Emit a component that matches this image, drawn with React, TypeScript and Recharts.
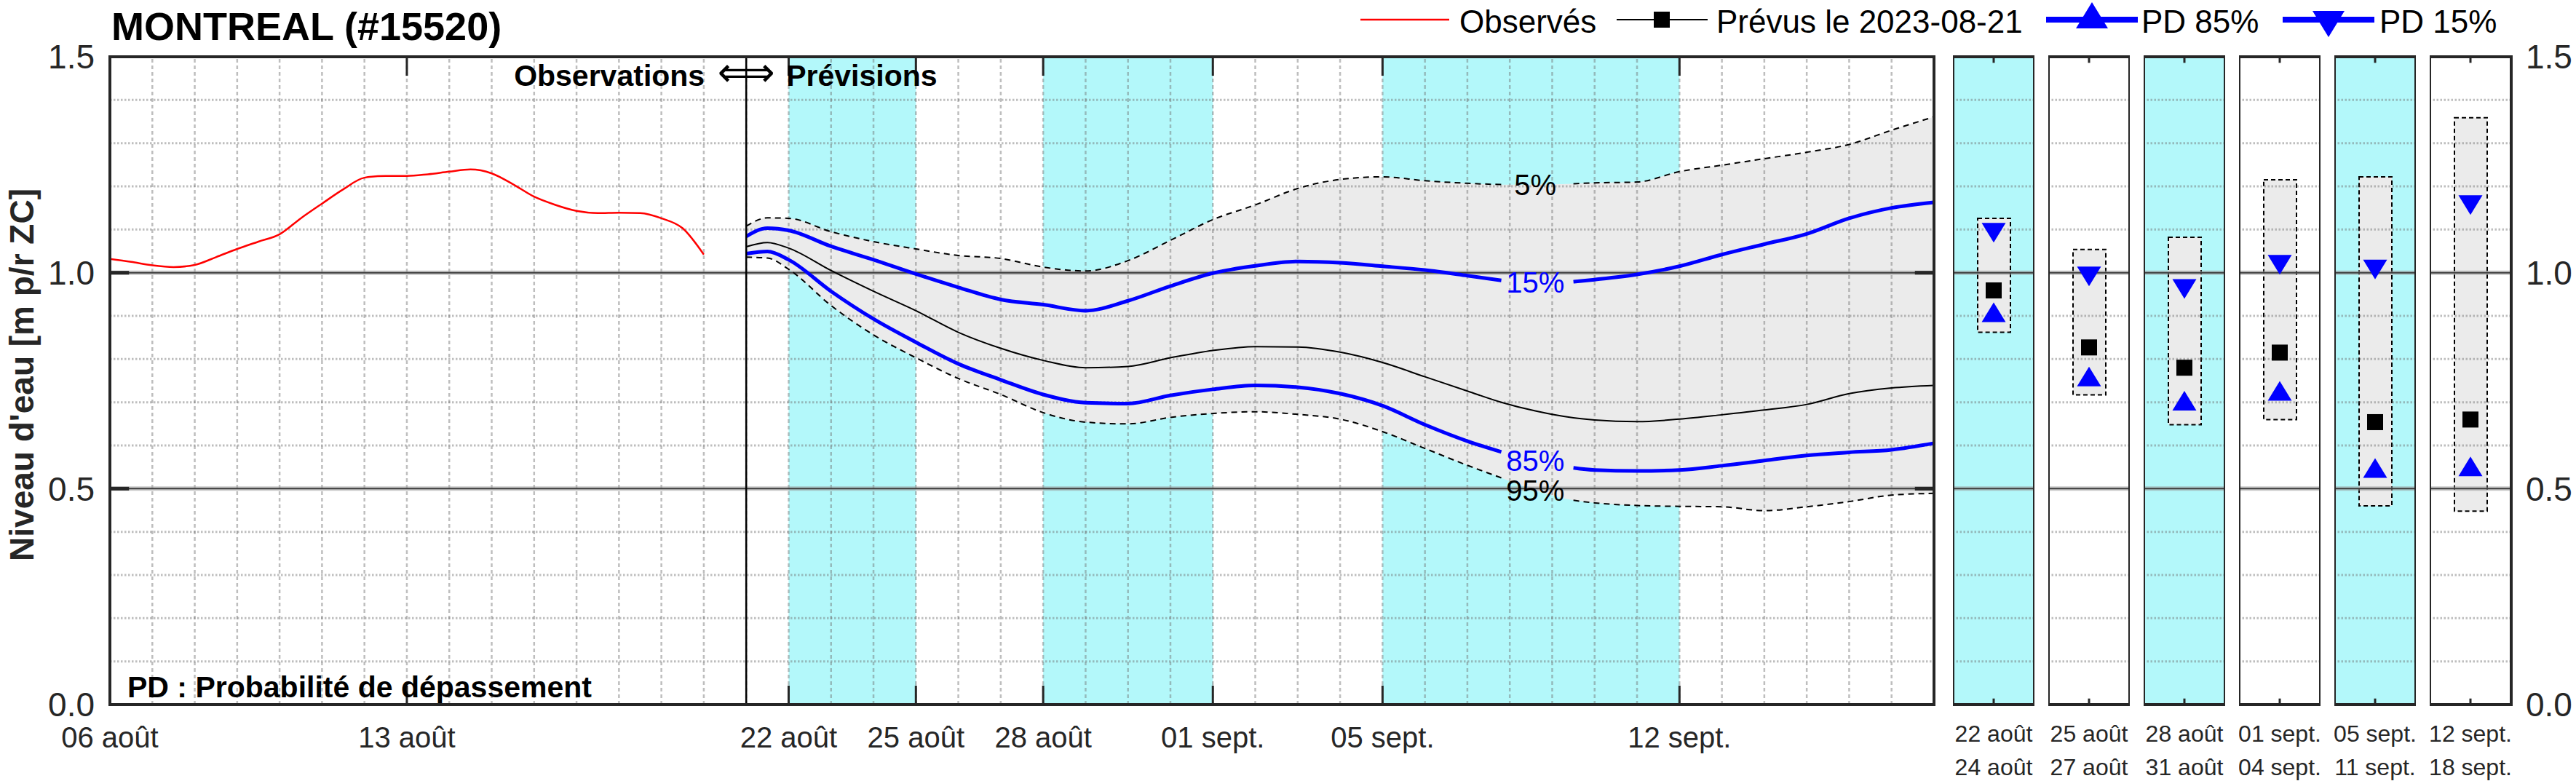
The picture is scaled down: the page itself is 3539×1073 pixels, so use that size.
import React from 'react';
import {
  ComposedChart,
  Line,
  Area,
  Bar,
  XAxis,
  YAxis,
  ReferenceArea,
  ReferenceLine,
  ReferenceDot,
} from 'recharts';

/* ── Data (x = days counted from 06 août 2023) ─────────────────── */
const obsDays = [0, 0.5, 1, 1.5, 2, 2.5, 3, 3.5, 4, 4.5, 5, 5.5, 6, 6.5, 7, 7.5, 8, 8.5, 9, 9.5, 10, 10.5, 11, 11.5, 12, 12.5, 13, 13.5, 14];
const obsLevel = [1.032, 1.025, 1.017, 1.013, 1.018, 1.036, 1.055, 1.072, 1.089, 1.126, 1.16, 1.193, 1.22, 1.224, 1.224, 1.228, 1.234, 1.239, 1.23, 1.205, 1.176, 1.157, 1.143, 1.138, 1.139, 1.138, 1.126, 1.103, 1.042];

const fcDays = [15, 15.5, 16, 17, 18, 19, 20, 21, 22, 23, 24, 25, 26, 27, 28, 29, 30, 31, 32, 32.8, 33.6, 34.5, 35, 36, 37, 38, 39, 40, 41, 42, 43];
const p05 = [1.108, 1.127, 1.126, 1.095, 1.072, 1.055, 1.04, 1.033, 1.013, 1.004, 1.028, 1.075, 1.123, 1.157, 1.195, 1.216, 1.222, 1.213, 1.207, 1.204, 1.204, 1.206, 1.208, 1.21, 1.234, 1.249, 1.264, 1.279, 1.297, 1.33, 1.361];
const p15 = [1.084, 1.103, 1.098, 1.061, 1.03, 0.997, 0.966, 0.938, 0.926, 0.912, 0.935, 0.969, 0.999, 1.016, 1.026, 1.023, 1.015, 1.006, 0.993, 0.982, 0.978, 0.979, 0.984, 0.996, 1.015, 1.042, 1.066, 1.09, 1.126, 1.15, 1.163];
const p50 = [1.06, 1.07, 1.057, 1.005, 0.957, 0.912, 0.862, 0.825, 0.797, 0.78, 0.783, 0.803, 0.82, 0.829, 0.828, 0.816, 0.792, 0.759, 0.726, 0.7, 0.68, 0.664, 0.659, 0.655, 0.661, 0.671, 0.682, 0.695, 0.72, 0.733, 0.739];
const p85 = [1.044, 1.049, 1.03, 0.957, 0.893, 0.839, 0.789, 0.752, 0.718, 0.699, 0.697, 0.716, 0.73, 0.739, 0.735, 0.72, 0.692, 0.648, 0.61, 0.585, 0.565, 0.548, 0.543, 0.541, 0.543, 0.553, 0.565, 0.577, 0.584, 0.59, 0.605];
const p95 = [1.036, 1.034, 1.008, 0.924, 0.856, 0.803, 0.755, 0.718, 0.676, 0.654, 0.65, 0.665, 0.674, 0.678, 0.672, 0.661, 0.632, 0.593, 0.554, 0.525, 0.496, 0.473, 0.467, 0.461, 0.459, 0.458, 0.449, 0.458, 0.47, 0.485, 0.489];
// percentile labels sit in a break of their line
const labelDay = 33.6;

const forecastDay = 15;
const shadedSpans = [[16, 19], [22, 26], [30, 37]];
const xTickDays = [0, 7, 16, 19, 22, 26, 30, 37];
const xTickLabels = ['06 août', '13 août', '22 août', '25 août', '28 août', '01 sept.', '05 sept.', '12 sept.'];
const yTicks = [0, 0.5, 1, 1.5];
const yMinor = [0.1, 0.2, 0.3, 0.4, 0.6, 0.7, 0.8, 0.9, 1.1, 1.2, 1.3, 1.4];
const yMajor = [0.5, 1];

// period summaries (right panels)
const panelStart = ['22 août', '25 août', '28 août', '01 sept.', '05 sept.', '12 sept.'];
const panelEnd = ['24 août', '27 août', '31 août', '04 sept.', '11 sept.', '18 sept.'];
const panelShaded = [true, false, true, false, true, false];
const panelHigh = [1.126, 1.054, 1.082, 1.215, 1.222, 1.359];
const panelLow = [0.862, 0.717, 0.648, 0.66, 0.46, 0.448];
const panelPd15 = [1.1, 0.999, 0.97, 1.026, 1.015, 1.164];
const panelMed = [0.959, 0.827, 0.78, 0.815, 0.654, 0.66];
const panelPd85 = [0.901, 0.752, 0.696, 0.719, 0.54, 0.544];

/* ── Design tokens ─────────────────────────────────────────────── */
const tokens = {
  cyan: '#B3F8FA',
  band: '#EBEBEB',
  blue: '#0000FF',
  red: '#FF0000',
  ink: '#262626',
  grid: '#6E6E6E',
  font: '"Liberation Sans", Arial, Helvetica, sans-serif',
};

/* ── Layout ────────────────────────────────────────────────────── */
const W = 3539;
const H = 1073;
const PLOT_TOP = 78;
const PLOT_BOTTOM = 968;
const PLOT_LEFT = 151;
const MAIN_RIGHT = 2657;
const MAIN_W = 2700;
const Y_AXIS_W = 100;
const X_AXIS_H = 60;
const PANEL_LEFT = 2683;
const PANEL_STEP = 131;
const PANEL_W = 112;
const RIGHT_AXIS_W = 89;

const dayGrid = Array.from({ length: 42 }, (_, i) => i + 1);

const obsRows = obsDays.map((day, i) => ({ day, level: obsLevel[i] }));
const fcRows = fcDays.map((day, i) => {
  const gap = day === labelDay;
  return {
    day,
    band: [p95[i], p05[i]],
    p50: p50[i],
    p05: gap ? null : p05[i],
    p15: gap ? null : p15[i],
    p85: gap ? null : p85[i],
    p95: gap ? null : p95[i],
  };
});
const li = fcDays.indexOf(labelDay);

/* ── Markers ───────────────────────────────────────────────────── */
const triDown = (w: number, h: number) => (props: any) => {
  const { cx, cy, index } = props;
  if (cx == null || cy == null) return <g key={`dn-${index}`} />;
  const top = cy - h / 3;
  return (
    <path key={`dn-${index}`} d={`M${cx - w / 2},${top}L${cx + w / 2},${top}L${cx},${top + h}Z`} fill={tokens.blue} />
  );
};
const triUp = (w: number, h: number) => (props: any) => {
  const { cx, cy, index } = props;
  if (cx == null || cy == null) return <g key={`up-${index}`} />;
  const base = cy + h / 3;
  return (
    <path key={`up-${index}`} d={`M${cx - w / 2},${base}L${cx + w / 2},${base}L${cx},${base - h}Z`} fill={tokens.blue} />
  );
};
const square = (s: number) => (props: any) => {
  const { cx, cy, index } = props;
  if (cx == null || cy == null) return <g key={`sq-${index}`} />;
  return <rect key={`sq-${index}`} x={cx - s / 2} y={cy - s / 2} width={s} height={s} fill="#000" />;
};

const gridV = { stroke: tokens.grid, strokeOpacity: 0.45, strokeWidth: 2.5, strokeDasharray: '5 4' };
const gridH = { stroke: tokens.grid, strokeOpacity: 0.45, strokeWidth: 3, strokeDasharray: '2.5 2.5' };

const pctLabel = (text: string, color: string) => (props: any) => (
  <text
    x={props.cx}
    y={props.cy}
    textAnchor="middle"
    dominantBaseline="central"
    fontSize={40}
    fill={color}
    fontFamily={tokens.font}
  >
    {text}
  </text>
);

/* ── Main hydrograph ───────────────────────────────────────────── */
const MainChart = () => (
  <ComposedChart
    width={MAIN_W}
    height={H}
    margin={{ top: PLOT_TOP, right: MAIN_W - MAIN_RIGHT, bottom: H - PLOT_BOTTOM - X_AXIS_H, left: PLOT_LEFT - Y_AXIS_W }}
  >
    <XAxis
      type="number"
      dataKey="day"
      domain={[0, 43]}
      allowDataOverflow
      ticks={xTickDays}
      interval={0}
      tickFormatter={(v: number) => xTickLabels[xTickDays.indexOf(v)] ?? ''}
      height={X_AXIS_H}
      axisLine={false}
      tickLine={false}
      tickSize={0}
      tickMargin={31}
      tick={{ fontSize: 40, fill: tokens.ink, fontFamily: tokens.font }}
    />
    <YAxis
      type="number"
      domain={[0, 1.5]}
      allowDataOverflow
      ticks={yTicks}
      interval={0}
      tickFormatter={(v: number) => v.toFixed(1)}
      width={Y_AXIS_W}
      axisLine={false}
      tickLine={false}
      tickSize={0}
      tickMargin={21}
      tick={{ fontSize: 46, fill: tokens.ink, fontFamily: tokens.font }}
    />

    {/* shaded periods */}
    {shadedSpans.map(([a, b]) => (
      <ReferenceArea key={`s-${a}`} x1={a} x2={b} y1={0} y2={1.5} fill={tokens.cyan} fillOpacity={1} stroke="none" zIndex={50} />
    ))}

    {/* 5%–95% envelope */}
    <Area
      data={fcRows}
      dataKey="band"
      type="monotone"
      stroke="none"
      fill={tokens.band}
      fillOpacity={1}
      isAnimationActive={false}
      dot={false}
      activeDot={false}
      zIndex={60}
    />

    {/* grid */}
    {dayGrid.map((d) => (
      <ReferenceLine key={`v-${d}`} x={d} {...gridV} zIndex={70} />
    ))}
    {yMinor.map((v) => (
      <ReferenceLine key={`h-${v}`} y={v} {...gridH} zIndex={70} />
    ))}
    {yMajor.map((v) => (
      <ReferenceLine key={`mh-${v}`} y={v} stroke="#9A9A9A" strokeOpacity={0.55} strokeWidth={6} zIndex={71} />
    ))}
    {yMajor.map((v) => (
      <ReferenceLine key={`m-${v}`} y={v} stroke="#3C3C3C" strokeWidth={2} zIndex={72} />
    ))}

    {/* series */}
    <Line data={obsRows} dataKey="level" type="monotone" stroke={tokens.red} strokeWidth={2.5} dot={false} activeDot={false} isAnimationActive={false} zIndex={90} />
    <Line data={fcRows} dataKey="p05" type="monotone" stroke="#000" strokeWidth={2} strokeDasharray="8 6" dot={false} activeDot={false} isAnimationActive={false} zIndex={91} />
    <Line data={fcRows} dataKey="p95" type="monotone" stroke="#000" strokeWidth={2} strokeDasharray="8 6" dot={false} activeDot={false} isAnimationActive={false} zIndex={91} />
    <Line data={fcRows} dataKey="p50" type="monotone" stroke="#000" strokeWidth={2} dot={false} activeDot={false} isAnimationActive={false} zIndex={92} />
    <Line data={fcRows} dataKey="p15" type="monotone" stroke={tokens.blue} strokeWidth={5} dot={false} activeDot={false} isAnimationActive={false} zIndex={93} />
    <Line data={fcRows} dataKey="p85" type="monotone" stroke={tokens.blue} strokeWidth={5} dot={false} activeDot={false} isAnimationActive={false} zIndex={93} />

    {/* observation / forecast divider */}
    <ReferenceLine x={forecastDay} stroke="#000" strokeWidth={2.5} zIndex={95} />

    {/* frame and inward ticks */}
    <ReferenceArea x1={0} x2={43} y1={0} y2={1.5} fill="none" stroke={tokens.ink} strokeWidth={4} zIndex={97} />
    {xTickDays.map((d) => (
      <ReferenceLine key={`tt-${d}`} segment={[{ x: d, y: 1.5 }, { x: d, y: 1.456 }]} stroke={tokens.ink} strokeWidth={3} zIndex={98} />
    ))}
    {xTickDays.map((d) => (
      <ReferenceLine key={`tb-${d}`} segment={[{ x: d, y: 0 }, { x: d, y: 0.044 }]} stroke={tokens.ink} strokeWidth={3} zIndex={98} />
    ))}
    {yMajor.map((v) => (
      <ReferenceLine key={`yl-${v}`} segment={[{ x: 0, y: v }, { x: 0.45, y: v }]} stroke={tokens.ink} strokeWidth={5} zIndex={98} />
    ))}
    {yMajor.map((v) => (
      <ReferenceLine key={`yr-${v}`} segment={[{ x: 42.55, y: v }, { x: 43, y: v }]} stroke={tokens.ink} strokeWidth={5} zIndex={98} />
    ))}

    {/* percentile labels */}
    <ReferenceDot x={labelDay} y={p05[li]} r={0} shape={pctLabel('5%', '#000')} zIndex={99} />
    <ReferenceDot x={labelDay} y={p15[li]} r={0} shape={pctLabel('15%', tokens.blue)} zIndex={99} />
    <ReferenceDot x={labelDay} y={p85[li]} r={0} shape={pctLabel('85%', tokens.blue)} zIndex={99} />
    <ReferenceDot x={labelDay} y={p95[li]} r={0} shape={pctLabel('95%', '#000')} zIndex={99} />

    {/* Observations <=> Prévisions */}
    <ReferenceDot
      x={forecastDay}
      y={1.5}
      r={0}
      zIndex={99}
      shape={(p: any) => (
        <g fontFamily={tokens.font} fill="#000">
          <text x={p.cx - 57} y={p.cy + 40} textAnchor="end" fontSize={41} fontWeight="bold">
            Observations
          </text>
          <text x={p.cx} y={p.cy + 40} textAnchor="middle" fontSize={55} fontFamily='"DejaVu Sans", sans-serif'>
            ⟺
          </text>
          <text x={p.cx + 55} y={p.cy + 40} textAnchor="start" fontSize={41} fontWeight="bold">
            Prévisions
          </text>
        </g>
      )}
    />
  </ComposedChart>
);

/* ── Period panels ─────────────────────────────────────────────── */
const PanelChart: React.FC<{ i: number }> = ({ i }) => {
  const last = i === panelStart.length - 1;
  const rows = [
    {
      name: panelStart[i],
      box: [panelLow[i], panelHigh[i]],
      pd15: panelPd15[i],
      med: panelMed[i],
      pd85: panelPd85[i],
    },
  ];
  return (
    <div style={{ position: 'absolute', left: PANEL_LEFT + i * PANEL_STEP, top: 0 }}>
      <ComposedChart
        width={PANEL_W + (last ? RIGHT_AXIS_W : 0)}
        height={H}
        data={rows}
        margin={{ top: PLOT_TOP, right: 0, bottom: 0, left: 0 }}
      >
        <XAxis
          dataKey="name"
          type="category"
          height={H - PLOT_BOTTOM}
          axisLine={false}
          tickLine={false}
          tickSize={0}
          tickMargin={0}
          interval={0}
          tick={(p: any) => (
            <g fontFamily={tokens.font} fill={tokens.ink} fontSize={32}>
              <text x={p.x} y={p.y + 51} textAnchor="middle">{panelStart[i]}</text>
              <text x={p.x} y={p.y + 97} textAnchor="middle">{panelEnd[i]}</text>
            </g>
          )}
        />
        <YAxis
          type="number"
          domain={[0, 1.5]}
          allowDataOverflow
          ticks={yTicks}
          interval={0}
          orientation="right"
          hide={!last}
          width={RIGHT_AXIS_W}
          axisLine={false}
          tickLine={false}
          tickSize={0}
          tickMargin={20}
          tickFormatter={(v: number) => v.toFixed(1)}
          tick={{ fontSize: 46, fill: tokens.ink, fontFamily: tokens.font }}
        />
        {panelShaded[i] && (
          <ReferenceArea y1={0} y2={1.5} fill={tokens.cyan} fillOpacity={1} stroke="none" zIndex={50} />
        )}
        <Bar
          dataKey="box"
          barSize={45}
          fill={tokens.band}
          stroke="#000"
          strokeWidth={2}
          strokeDasharray="6 4"
          isAnimationActive={false}
          zIndex={60}
        />
        {yMinor.map((v) => (
          <ReferenceLine key={`h-${v}`} y={v} {...gridH} zIndex={70} />
        ))}
        {yMajor.map((v) => (
          <ReferenceLine key={`mh-${v}`} y={v} stroke="#9A9A9A" strokeOpacity={0.55} strokeWidth={6} zIndex={71} />
        ))}
        {yMajor.map((v) => (
          <ReferenceLine key={`m-${v}`} y={v} stroke="#3C3C3C" strokeWidth={2} zIndex={72} />
        ))}
        <Line dataKey="pd15" stroke="none" dot={triDown(33, 27)} activeDot={false} isAnimationActive={false} zIndex={90} />
        <Line dataKey="med" stroke="none" dot={square(22)} activeDot={false} isAnimationActive={false} zIndex={90} />
        <Line dataKey="pd85" stroke="none" dot={triUp(33, 27)} activeDot={false} isAnimationActive={false} zIndex={90} />
        <ReferenceArea y1={0} y2={1.5} fill="none" stroke={tokens.ink} strokeWidth={4} zIndex={97} />
        <ReferenceLine segment={[{ x: panelStart[i], y: 1.5 }, { x: panelStart[i], y: 1.486 }]} stroke={tokens.ink} strokeWidth={3} zIndex={98} />
        <ReferenceLine segment={[{ x: panelStart[i], y: 0 }, { x: panelStart[i], y: 0.014 }]} stroke={tokens.ink} strokeWidth={3} zIndex={98} />
      </ComposedChart>
    </div>
  );
};

/* ── Title, legend, axis title ─────────────────────────────────── */
const Overlay = () => (
  <svg
    width={W}
    height={H}
    style={{ position: 'absolute', left: 0, top: 0, pointerEvents: 'none' }}
    fontFamily={tokens.font}
  >
    <text x={153} y={55} fontSize={54} fontWeight="bold" fill="#000">
      MONTREAL (#15520)
    </text>
    <text transform="translate(46,515) rotate(-90)" textAnchor="middle" fontSize={46} fontWeight="bold" fill={tokens.ink}>
      Niveau d'eau [m p/r ZC]
    </text>
    <text x={175} y={958} fontSize={41} fontWeight="bold" fill="#000">
      PD : Probabilité de dépassement
    </text>

    {/* legend */}
    <line x1={1869} x2={1991} y1={27} y2={27} stroke={tokens.red} strokeWidth={2.5} />
    <text x={2005} y={45} fontSize={44} fill="#000">Observés</text>
    <line x1={2221} x2={2346} y1={27} y2={27} stroke="#000" strokeWidth={2} />
    <rect x={2272} y={16} width={22} height={22} fill="#000" />
    <text x={2358} y={45} fontSize={44} fill="#000">Prévus le 2023-08-21</text>
    <line x1={2811} x2={2937} y1={27} y2={27} stroke={tokens.blue} strokeWidth={8} />
    <path d="M2852,39L2896,39L2874,3Z" fill={tokens.blue} />
    <text x={2942} y={45} fontSize={44} fill="#000">PD 85%</text>
    <line x1={3136} x2={3262} y1={27} y2={27} stroke={tokens.blue} strokeWidth={8} />
    <path d="M3177,15L3221,15L3199,51Z" fill={tokens.blue} />
    <text x={3269} y={45} fontSize={44} fill="#000">PD 15%</text>
  </svg>
);

export default function App() {
  return (
    <div
      style={{
        position: 'absolute',
        left: 0,
        top: 0,
        width: W,
        height: H,
        background: '#fff',
        fontFamily: tokens.font,
      }}
    >
      <div style={{ position: 'absolute', left: 0, top: 0 }}>
        <MainChart />
      </div>
      {panelStart.map((_, i) => (
        <PanelChart key={i} i={i} />
      ))}
      <Overlay />
    </div>
  );
}
